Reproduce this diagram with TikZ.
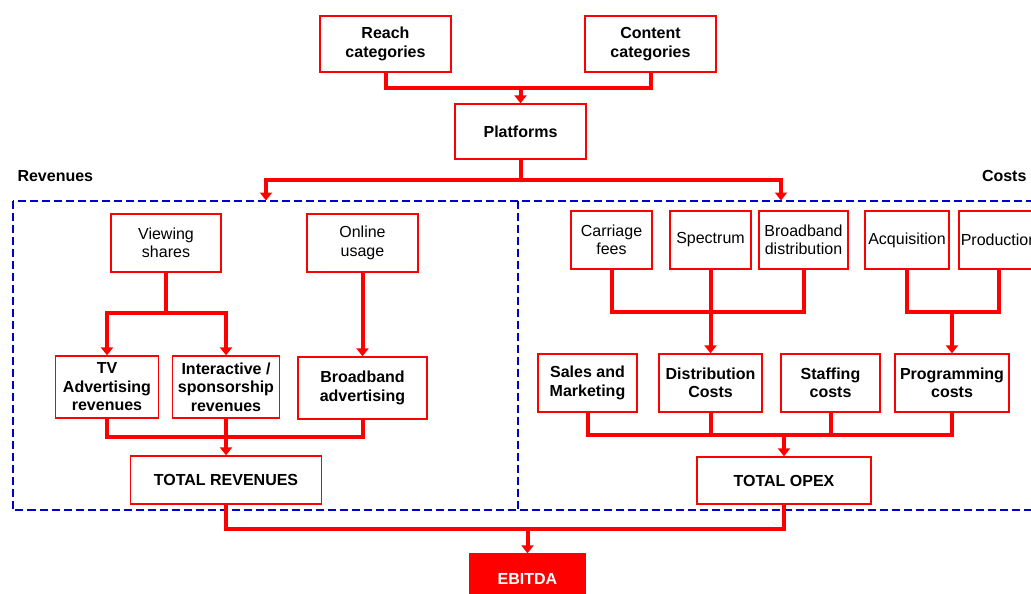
\documentclass[tikz,border=0pt]{standalone}
\usepackage{fontspec}
\setmainfont{Liberation Sans}
\usetikzlibrary{arrows.meta}
\definecolor{frameblue}{RGB}{0,0,204}
\tikzset{
  box/.style={draw=red, line width=1.3pt, fill=white, align=center, inner sep=1pt,
    font=\fontsize{16}{18.5}\selectfont},
  boldbox/.style={box, font=\bfseries\fontsize{16}{18.5}\selectfont},
  wire/.style={draw=red, line width=4pt},
  feed/.style={wire, -{Triangle[width=12pt,length=8pt]}},
  dashbox/.style={draw=frameblue, line width=2pt, dash pattern=on 8pt off 4pt},
}
\begin{document}
\begin{tikzpicture}[x=1pt,y=-1pt]
				\clip (0,0) rectangle (1031,594);
				% frames
				\coordinate (dtl) at (13,200.5);
				\coordinate (dbr) at (1060,510);
				\coordinate (dmt) at (518,200.5);
				\coordinate (dmb) at (518,510);
				\draw[dashbox] (dtl) rectangle (dbr);
				\draw[dashbox] (dmt) -- (dmb);
				\node[anchor=west, font=\bfseries\fontsize{16}{18.5}\selectfont] (revlabel) at (14,176) {Revenues};
				\node[anchor=east, font=\bfseries\fontsize{16}{18.5}\selectfont] (costlabel) at (1030,176) {Costs};
				% top
				\node[boldbox, minimum width=131, minimum height=56] (reach) at (385.5,44) {Reach\\categories};
				\node[boldbox, minimum width=131, minimum height=56] (content) at (650.5,44) {Content\\categories};
				\node[boldbox, minimum width=131, minimum height=55] (platforms) at (520.5,131.5) {Platforms};
				% revenues
				\node[box, minimum width=110, minimum height=58] (viewing) at (166,243) {Viewing\\shares};
				\node[box, minimum width=111, minimum height=58] (online) at (362.5,243) {Online\\usage};
				\node[boldbox, minimum width=103, minimum height=62] (tvadv) at (107,387) {TV\\Advertising\\revenues};
				\node[boldbox, minimum width=107, minimum height=62] (interactive) at (226,387) {Interactive /\\sponsorship\\revenues};
				\node[boldbox, minimum width=129, minimum height=62] (bbadv) at (362.5,388) {Broadband\\advertising};
				\node[boldbox, minimum width=191, minimum height=48] (totrev) at (226,480) {TOTAL REVENUES};
				% costs
				\node[box, minimum width=81, minimum height=58] (carriage) at (611.5,240) {Carriage\\fees};
				\node[box, minimum width=81, minimum height=58] (spectrum) at (710.5,240) {Spectrum};
				\node[box, minimum width=89, minimum height=58] (bbdist) at (803.5,240) {Broadband\\distribution};
				\node[box, minimum width=84, minimum height=58] (acquisition) at (907,240) {Acquisition};
				\node[box, minimum width=80, minimum height=58] (production) at (999,240) {Production};
				\node[boldbox, minimum width=99, minimum height=58] (sales) at (587.5,383) {Sales and\\Marketing};
				\node[boldbox, minimum width=103, minimum height=58] (distcost) at (710.5,383) {Distribution\\Costs};
				\node[boldbox, minimum width=99, minimum height=58] (staffing) at (830.5,383) {Staffing\\costs};
				\node[boldbox, minimum width=114, minimum height=58] (progcost) at (952,383) {Programming\\costs};
				\node[boldbox, minimum width=174, minimum height=47] (totopex) at (784,480.5) {TOTAL OPEX};
				\node[boldbox, draw=red, fill=red, text=white, minimum width=115, minimum height=50] (ebitda) at (527.5,579) {EBITDA};
				% joins
				\coordinate (jtop) at (520.5,88);
				\coordinate (jsplit) at (520.5,180);
				\coordinate (revtop) at (266,200.5);
				\coordinate (costtop) at (781,200.5);
				\coordinate (jview) at (166,313);
				\coordinate (jrev) at (226,437);
				\coordinate (jdist) at (710.5,312);
				\coordinate (jprog) at (952,312);
				\coordinate (jopex) at (784,435);
				\coordinate (jebit) at (527.5,529);
				% connectors
				\draw[wire] (reach.south) |- (jtop) -| (content.south);
				\draw[feed] (jtop) -- (platforms.north);
				\draw[wire] (platforms.south) -- (jsplit);
				\draw[feed] (jsplit) -| (revtop);
				\draw[feed] (jsplit) -| (costtop);
				\draw[wire] (viewing.south) -- (jview);
				\draw[feed] (jview) -| (tvadv.north);
				\draw[feed] (jview) -| (interactive.north);
				\draw[feed] (online.south) -- (bbadv.north);
				\draw[wire] (tvadv.south) |- (jrev) -| (bbadv.south);
				\draw[wire] (interactive.south) -- (jrev);
				\draw[feed] (jrev) -- (totrev.north);
				\draw[wire] (carriage.south) |- (jdist) -| (bbdist.south);
				\draw[feed] (spectrum.south) -- (distcost.north);
				\draw[wire] (acquisition.south) |- (jprog) -| (production.south);
				\draw[feed] (jprog) -- (progcost.north);
				\draw[wire] (sales.south) |- (jopex) -| (progcost.south);
				\draw[wire] (distcost.south) -- (distcost.south |- jopex);
				\draw[wire] (staffing.south) -- (staffing.south |- jopex);
				\draw[feed] (jopex) -- (totopex.north);
				\draw[wire] (totrev.south) |- (jebit) -| (totopex.south);
				\draw[feed] (jebit) -- (ebitda.north);
			\end{tikzpicture}
\end{document}
